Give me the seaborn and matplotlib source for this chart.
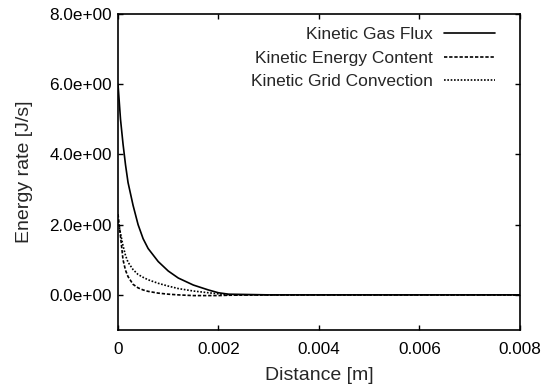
import matplotlib
matplotlib.use("Agg")
import matplotlib.pyplot as plt
import seaborn as sns
import pandas as pd
from matplotlib.ticker import FuncFormatter, FixedLocator

sns.set_theme(style="ticks")
plt.rcParams['font.family'] = ['Liberation Sans', 'DejaVu Sans']

distance = [0, 0.00005, 0.0001, 0.00015, 0.0002, 0.0003, 0.0004, 0.0005, 0.0006,
            0.0008, 0.001, 0.0012, 0.0015, 0.0018, 0.002, 0.0022, 0.003, 0.004,
            0.005, 0.006, 0.007, 0.008]
gas_flux = [6.0, 5.0, 4.3, 3.7, 3.2, 2.55, 2.0, 1.6, 1.32, 0.95, 0.68, 0.48, 0.28,
            0.14, 0.06, 0.02, 0.0, 0.0, 0.0, 0.0, 0.0, 0.0]
energy_content = [2.3, 1.67, 1.0, 0.7, 0.52, 0.3, 0.2, 0.14, 0.1, 0.05, 0.02, 0.0,
                  -0.02, -0.02, -0.02, -0.01, 0.0, 0.0, 0.0, 0.0, 0.0, 0.0]
grid_convection = [2.1, 1.75, 1.4, 1.12, 0.93, 0.72, 0.58, 0.5, 0.43, 0.33, 0.25,
                   0.18, 0.11, 0.06, 0.03, 0.0, 0.0, 0.0, 0.0, 0.0, 0.0, 0.0]
series_names = ["Kinetic Gas Flux", "Kinetic Energy Content", "Kinetic Grid Convection"]

df = pd.concat([
    pd.DataFrame({"x": distance, "y": vals, "s": name})
    for name, vals in zip(series_names, [gas_flux, energy_content, grid_convection])
])

fig = plt.figure(figsize=(5.45, 3.88), dpi=100)
ax = fig.add_axes([0.2165, 0.1495, 0.7375, 0.8145])

styles = {series_names[0]: None,
          series_names[1]: (2.0, 1.1),
          series_names[2]: (1.0, 1.0)}
for name in series_names:
    sub = df[df["s"] == name]
    sns.lineplot(data=sub, x="x", y="y", ax=ax, color="black", linewidth=1.2, label=name)
    if styles[name] is not None:
        ax.lines[-1].set_dashes(styles[name])

ax.set_xlim(0, 0.008)
ax.set_ylim(-1, 8)
ax.xaxis.set_major_locator(FixedLocator([0, 0.002, 0.004, 0.006, 0.008]))
ax.yaxis.set_major_locator(FixedLocator([0, 2, 4, 6, 8]))
ax.xaxis.set_major_formatter(FuncFormatter(lambda v, p: "0" if abs(v) < 1e-12 else f"{v:g}"))
ax.yaxis.set_major_formatter(FuncFormatter(lambda v, p: f"{v:.1e}"))
ax.tick_params(direction="in", top=True, right=True, length=3.5, width=1,
               labelsize=12.3, colors="black")
ax.tick_params(axis="x", pad=8.5)
ax.tick_params(axis="y", pad=4.3)
for sp in ax.spines.values():
    sp.set_linewidth(1.2)
    sp.set_color("black")

ax.set_xlabel("Distance [m]", fontsize=14, labelpad=7.5)
ax.set_ylabel("Energy rate [J/s]", fontsize=14, labelpad=11.5)

leg = ax.legend(loc="upper right", frameon=False, markerfirst=False, fontsize=12.5,
                handlelength=2.94, handletextpad=0.63, labelspacing=0.5,
                borderpad=0, borderaxespad=0, bbox_to_anchor=(0.938, 0.960))

fig.savefig("out.png", dpi=100)
